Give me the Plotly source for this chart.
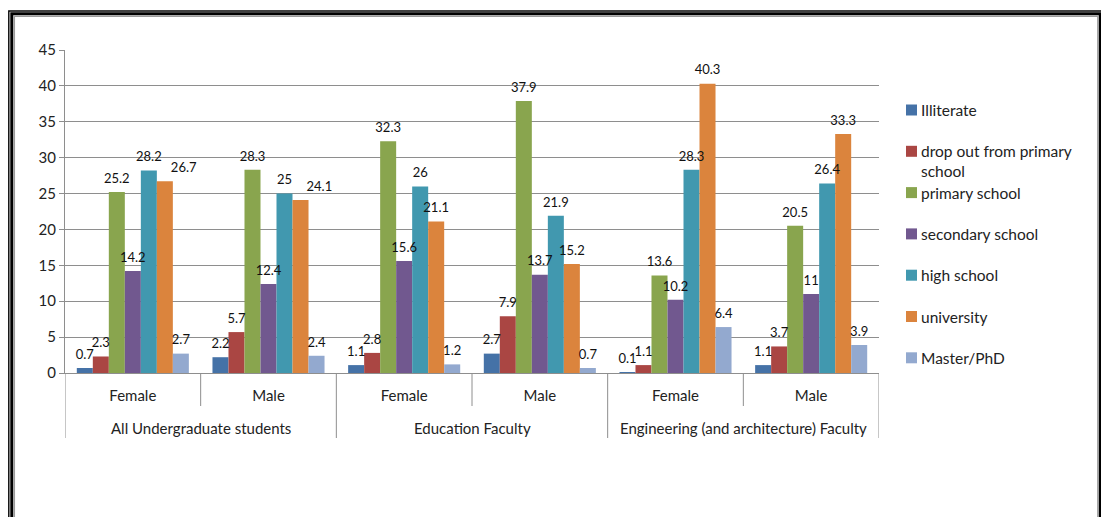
import plotly.graph_objects as go

# ---- data ----
groups = ["All Undergraduate students", "Education Faculty", "Engineering (and architecture) Faculty"]
genders = ["Female", "Male"]

series_names = [
    "Illiterate",
    "drop out from primary school",
    "primary school",
    "secondary school",
    "high school",
    "university",
    "Master/PhD",
]
series_colors = ["#4572A7", "#AA4643", "#89A54E", "#71588F", "#4198AF", "#DB843D", "#93A9CF"]

# values per category: AU-F, AU-M, EF-F, EF-M, EN-F, EN-M
illiterate = [0.7, 2.2, 1.1, 2.7, 0.1, 1.1]
drop_out = [2.3, 5.7, 2.8, 7.9, 1.1, 3.7]
primary = [25.2, 28.3, 32.3, 37.9, 13.6, 20.5]
secondary = [14.2, 12.4, 15.6, 13.7, 10.2, 11]
high = [28.2, 25, 26, 21.9, 28.3, 26.4]
university = [26.7, 24.1, 21.1, 15.2, 40.3, 33.3]
master_phd = [2.7, 2.4, 1.2, 0.7, 6.4, 3.9]

series_values = [illiterate, drop_out, primary, secondary, high, university, master_phd]

y_ticks = [0, 5, 10, 15, 20, 25, 30, 35, 40, 45]

# ---- geometry ----
W, H = 1101, 517
L, R, T, B = 65, 222, 50, 144
PW, PH = W - L - R, H - T - B

def fx(x):
    return (x - L) / PW

def fy(y):
    return (H - B - y) / PH

FONT = "Lato"
GRID = "#8E8E8E"
TXT = "#222222"

# one unique category per (group, gender) pair
cat_keys = [f"{g} | {s}" for g in groups for s in genders]
cat_labels = [s for _ in groups for s in genders]

# value labels placed to the right so neighbours do not collide:
# (series index, category index)
labels_right = {(5, 0), (5, 1)}

fig = go.Figure()
for k, (name, color, vals) in enumerate(zip(series_names, series_colors, series_values)):
    fig.add_trace(go.Bar(
        x=cat_keys, y=vals, name=name,
        offsetgroup=str(k),
        marker=dict(color=color, line=dict(width=0)),
        showlegend=False,
    ))
# value labels, grouped the same way as the bars
for k, vals in enumerate(series_values):
    positions = ["top right" if (k, c) in labels_right else "top center" for c in range(len(vals))]
    fig.add_trace(go.Scatter(
        x=cat_keys, y=vals,
        offsetgroup=str(k),
        mode="markers+text",
        marker=dict(size=8, color="rgba(0,0,0,0)"),
        text=[f"{v:g}" for v in vals],
        textposition=positions,
        textfont=dict(family=FONT, size=13, color="#111111"),
        cliponaxis=False,
        hoverinfo="skip",
        showlegend=False,
    ))

shapes = []
annotations = []

# category separators below the axis
n_cat = len(cat_keys)
for b in range(n_cat + 1):
    long_line = (b % len(genders) == 0)
    shapes.append(dict(type="line", xref="x", yref="paper",
                       x0=b - 0.5, x1=b - 0.5,
                       y0=fy(373), y1=fy(438 if long_line else 406),
                       line=dict(color=GRID, width=1)))

# group names under the gender labels
for gi, g in enumerate(groups):
    annotations.append(dict(xref="x", yref="paper",
                            x=gi * len(genders) + (len(genders) - 1) / 2,
                            y=fy(428), yanchor="middle", xanchor="center",
                            text=g, showarrow=False,
                            font=dict(family=FONT, size=15, color=TXT)))

# legend drawn beside the plot
leg_x0 = 906
leg_y0 = 110
leg_step = 41.3
legend_labels = [
    "Illiterate",
    "drop out from primary<br>school",
    "primary school",
    "secondary school",
    "high school",
    "university",
    "Master/PhD",
]
for i, (lab, color) in enumerate(zip(legend_labels, series_colors)):
    yc = leg_y0 + leg_step * i
    shapes.append(dict(type="rect", xref="paper", yref="paper",
                       x0=fx(leg_x0), x1=fx(leg_x0 + 11),
                       y0=fy(yc + 5.5), y1=fy(yc - 5.5),
                       fillcolor=color, line=dict(width=0)))
    annotations.append(dict(xref="paper", yref="paper",
                            x=fx(leg_x0 + 13), y=fy(yc - 11),
                            xanchor="left", yanchor="top", align="left",
                            text=lab, showarrow=False,
                            font=dict(family=FONT, size=15.5, color=TXT)))

# double frame around the chart: (left, top, right, width, colour)
frame = [
    (8.8, 11.0, 1103.0, 1.4, "#000000"),
    (11.8, 13.8, 1100.2, 3.0, "#000000"),
    (14.3, 16.3, 1097.9, 1.5, "#9A9A9A"),
]
for x_l, y_t, x_r, wdt, col in frame:
    shapes.append(dict(type="rect", xref="paper", yref="paper",
                       x0=fx(x_l), x1=fx(x_r),
                       y0=fy(H + 20), y1=fy(y_t),
                       line=dict(color=col, width=wdt), fillcolor="rgba(0,0,0,0)"))

fig.update_layout(
    width=W, height=H,
    margin=dict(l=L, r=R, t=T, b=B, autoexpand=False),
    paper_bgcolor="white",
    plot_bgcolor="white",
    barmode="group",
    bargap=0.174,
    bargroupgap=0,
    scattermode="group",
    scattergap=0.174,
    showlegend=False,
    shapes=shapes,
    annotations=annotations,
    font=dict(family=FONT, size=15, color=TXT),
)

fig.update_yaxes(
    range=[0, 45],
    tickvals=y_ticks,
    showgrid=True, gridcolor=GRID, gridwidth=1,
    showline=True, linecolor=GRID, linewidth=1,
    ticks="outside", ticklen=5, tickcolor=GRID,
    tickfont=dict(family=FONT, size=15, color=TXT),
    zeroline=False,
)
fig.update_xaxes(
    type="category",
    categoryorder="array", categoryarray=cat_keys,
    tickvals=cat_keys, ticktext=cat_labels,
    range=[-0.5, n_cat - 0.5],
    showline=True, linecolor=GRID, linewidth=1,
    ticks="", ticklabelstandoff=9,
    showgrid=False,
    tickfont=dict(family=FONT, size=15, color=TXT),
)

fig.write_html("out.html")
